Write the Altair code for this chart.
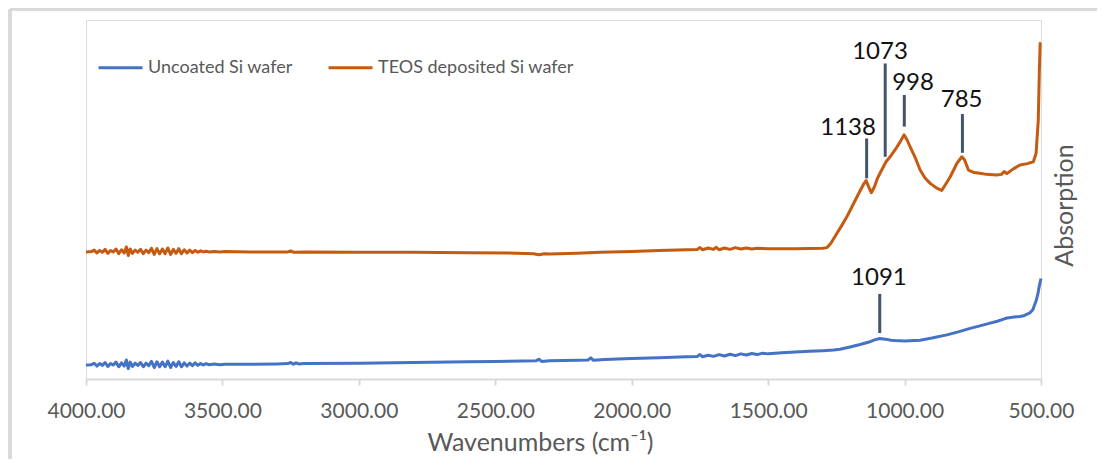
import altair as alt
import pandas as pd

SERIES = ["Uncoated Si wafer", "TEOS deposited Si wafer"]
COLORS = ["#4472C4", "#C55A11"]

uncoated = [
    (4000, 3.9), (3980, 4.0), (3970, 4.4), (3960, 3.6), (3950, 4.3), (3940, 3.8),
    (3930, 4.6), (3920, 3.5), (3910, 4.3), (3900, 3.9), (3890, 4.7), (3880, 3.4),
    (3870, 4.5), (3860, 3.6), (3852, 5.3), (3845, 2.9), (3838, 4.7), (3830, 3.5),
    (3820, 4.4), (3810, 3.8), (3800, 4.6), (3790, 3.4), (3780, 4.4), (3770, 3.7),
    (3760, 4.9), (3750, 3.2), (3740, 4.8), (3730, 3.4), (3720, 4.7), (3710, 3.4),
    (3700, 5.0), (3690, 3.2), (3680, 4.6), (3670, 3.5), (3660, 4.8), (3650, 3.4),
    (3640, 4.5), (3630, 3.6), (3620, 4.4), (3610, 3.7), (3600, 4.5), (3590, 3.8),
    (3580, 4.3), (3570, 3.9), (3560, 4.3), (3550, 4.0), (3530, 4.2), (3510, 4.0),
    (3490, 4.1), (3400, 4.1), (3300, 4.2), (3260, 4.3), (3250, 4.6), (3240, 4.1),
    (3230, 4.5), (3220, 4.2), (3200, 4.3), (3000, 4.4), (2800, 4.6), (2600, 4.8),
    (2500, 4.9), (2400, 5.0), (2350, 5.1), (2340, 5.5), (2330, 4.9), (2300, 5.1),
    (2200, 5.2), (2160, 5.3), (2150, 5.9), (2140, 5.2), (2100, 5.4), (2000, 5.7),
    (1900, 5.9), (1800, 6.2), (1760, 6.3), (1750, 6.8), (1740, 6.2), (1720, 6.6),
    (1700, 6.3), (1680, 6.8), (1660, 6.4), (1640, 6.9), (1620, 6.5), (1600, 7.0),
    (1580, 6.7), (1560, 7.1), (1540, 6.8), (1520, 7.2), (1500, 7.0), (1450, 7.3),
    (1400, 7.5), (1350, 7.7), (1300, 7.9), (1260, 8.1), (1237, 8.3), (1200, 8.9),
    (1163, 9.6), (1130, 10.3), (1110, 10.9), (1091, 11.3), (1070, 11.1), (1050, 10.8),
    (1035, 10.7), (1000, 10.6), (943, 10.8), (900, 11.4), (845, 12.3), (800, 13.2),
    (760, 14.1), (724, 14.8), (690, 15.5), (660, 16.1), (640, 16.6), (625, 17.0),
    (610, 17.1), (600, 17.3), (577, 17.4), (560, 17.7), (541, 18.4), (530, 19.3),
    (517, 22.0), (510, 24.2), (507, 25.6), (503, 27.0), (500, 28.0),
]

teos = [
    (4000, 35.4), (3980, 35.5), (3970, 35.9), (3960, 35.1), (3950, 35.8), (3940, 35.3),
    (3930, 36.1), (3920, 35.0), (3910, 35.8), (3900, 35.4), (3890, 36.2), (3880, 34.9),
    (3870, 36.0), (3860, 35.1), (3852, 36.8), (3845, 34.4), (3838, 36.2), (3830, 35.0),
    (3820, 35.9), (3810, 35.3), (3800, 36.1), (3790, 34.9), (3780, 35.9), (3770, 35.2),
    (3760, 36.4), (3750, 34.7), (3740, 36.3), (3730, 34.9), (3720, 36.2), (3710, 34.9),
    (3700, 36.5), (3690, 34.7), (3680, 36.1), (3670, 35.0), (3660, 36.3), (3650, 34.9),
    (3640, 36.0), (3630, 35.1), (3620, 35.9), (3610, 35.2), (3600, 35.8), (3590, 35.3),
    (3580, 35.7), (3570, 35.4), (3560, 35.6), (3550, 35.4), (3530, 35.5), (3510, 35.4),
    (3490, 35.5), (3400, 35.4), (3260, 35.4), (3250, 35.7), (3240, 35.3), (3200, 35.4),
    (3000, 35.3), (2800, 35.3), (2600, 35.2), (2450, 35.1), (2360, 34.9), (2340, 34.6),
    (2320, 34.9), (2300, 34.8), (2200, 35.0), (2116, 35.3), (2000, 35.5), (1900, 35.8),
    (1800, 36.0), (1760, 36.1), (1750, 36.6), (1740, 36.0), (1720, 36.5), (1700, 36.1),
    (1690, 36.7), (1680, 36.0), (1660, 36.5), (1640, 36.1), (1620, 36.6), (1600, 36.2),
    (1580, 36.5), (1560, 36.2), (1540, 36.4), (1500, 36.3), (1400, 36.3), (1300, 36.4),
    (1284, 36.6), (1270, 37.8), (1250, 40.3), (1230, 42.8), (1210, 45.4), (1190, 48.4),
    (1170, 51.4), (1150, 54.3), (1141, 55.3), (1132, 53.6), (1122, 51.9), (1110, 53.6),
    (1100, 55.8), (1090, 57.3), (1068, 60.5), (1050, 62.2), (1035, 63.8), (1015, 66.2),
    (1002, 68.0), (990, 66.5), (980, 64.7), (960, 61.5), (943, 58.2), (925, 56.0),
    (906, 54.5), (885, 53.3), (864, 52.5), (850, 54.2), (832, 56.4), (808, 60.1),
    (790, 61.9), (780, 61.0), (766, 58.2), (745, 57.5), (724, 57.3), (700, 57.0),
    (663, 56.8), (645, 57.0), (635, 57.8), (625, 57.2), (613, 57.9), (600, 58.6),
    (577, 59.6), (550, 60.0), (528, 60.5), (518, 62.9), (510, 72.1), (506, 86.0),
    (503, 93.5), (500, 93.7),
]

# peak annotations: label, line x, line y start, line y end, label x, label y
peak_labels = ["1138", "1073", "998", "785", "1091"]
peak_line_x = [1139, 1071, 1001, 788, 1091]
peak_line_y1 = [55.9, 61.9, 70.3, 63.0, 12.8]
peak_line_y2 = [67.0, 87.9, 79.1, 73.8, 23.7]
peak_text_x = [1207, 1090, 969, 791, 1094]
peak_text_y = [69.9, 91.2, 82.5, 77.7, 28.1]

x_ticks = [4000, 3500, 3000, 2500, 2000, 1500, 1000, 500]

rows = [{"wn": w, "ab": a, "series": SERIES[0]} for w, a in uncoated]
rows += [{"wn": w, "ab": a, "series": SERIES[1]} for w, a in teos]
spectra = pd.DataFrame(rows)

peaks = pd.DataFrame({
    "label": peak_labels, "lx": peak_line_x, "ly1": peak_line_y1,
    "ly2": peak_line_y2, "tx": peak_text_x, "ty": peak_text_y,
})

FONT = "Lato"
GREY = "#595959"

xscale = alt.Scale(domain=[500, 4000], reverse=True, nice=False, zero=False)
yscale = alt.Scale(domain=[0, 100], nice=False, zero=False)

lines = alt.Chart(spectra).mark_line(strokeWidth=3, strokeJoin="round").encode(
    x=alt.X("wn:Q", scale=xscale,
            axis=alt.Axis(values=x_ticks, format=".2f", title="Wavenumbers (cm⁻¹)",
                          grid=False, domainColor="#D9D9D9", domainWidth=2,
                          tickColor="#D9D9D9", tickWidth=2, tickSize=6,
                          labelFont=FONT, labelFontSize=21, labelColor=GREY,
                          labelPadding=15, labelFlush=False,
                          titleFont=FONT, titleFontSize=25, titleColor=GREY,
                          titleFontWeight="normal", titlePadding=9, titleX=454)),
    y=alt.Y("ab:Q", scale=yscale,
            axis=alt.Axis(orient="right", domain=False, ticks=False, labels=False,
                          grid=False, title="Absorption", titleAngle=270,
                          titleX=23, titleY=185, titleAlign="center",
                          titleBaseline="middle", titleFont=FONT, titleFontSize=25,
                          titleColor=GREY, titleFontWeight="normal")),
    color=alt.Color("series:N", scale=alt.Scale(domain=SERIES, range=COLORS),
                    sort=SERIES,
                    legend=alt.Legend(title=None, orient="none", legendX=11, legendY=24,
                                      direction="horizontal", symbolType="stroke",
                                      symbolSize=1936, symbolStrokeWidth=3,
                                      labelFont=FONT, labelFontSize=18, labelLimit=0,
                                      labelColor=GREY, labelOffset=4,
                                      columnPadding=29)),
    detail="series:N",
)

rules = alt.Chart(peaks).mark_rule(color="#44546A", strokeWidth=3).encode(
    x=alt.X("lx:Q", scale=xscale),
    y=alt.Y("ly1:Q", scale=yscale),
    y2="ly2:Q",
)

texts = alt.Chart(peaks).mark_text(font=FONT, fontSize=24, color="#111111",
                                   align="center", baseline="middle").encode(
    x=alt.X("tx:Q", scale=xscale),
    y=alt.Y("ty:Q", scale=yscale),
    text="label:N",
)

frame_left = alt.Chart(peaks).mark_rule(color="#D9D9D9", strokeWidth=3).encode(
    x=alt.value(-76), y=alt.value(-11), y2=alt.value(480))
frame_top = alt.Chart(peaks).mark_rule(color="#D9D9D9", strokeWidth=3).encode(
    x=alt.value(-76), x2=alt.value(1100), y=alt.value(-11))

chart = alt.layer(frame_left, frame_top, lines, rules, texts).properties(
    width=955, height=359,
    autosize=alt.AutoSizeParams(type="none"),
    padding={"left": 78, "top": 12, "right": 56, "bottom": 80},
).configure_view(stroke=None).configure(background="white")

chart.save("out.html", embed_options={"renderer": "svg", "actions": False})
